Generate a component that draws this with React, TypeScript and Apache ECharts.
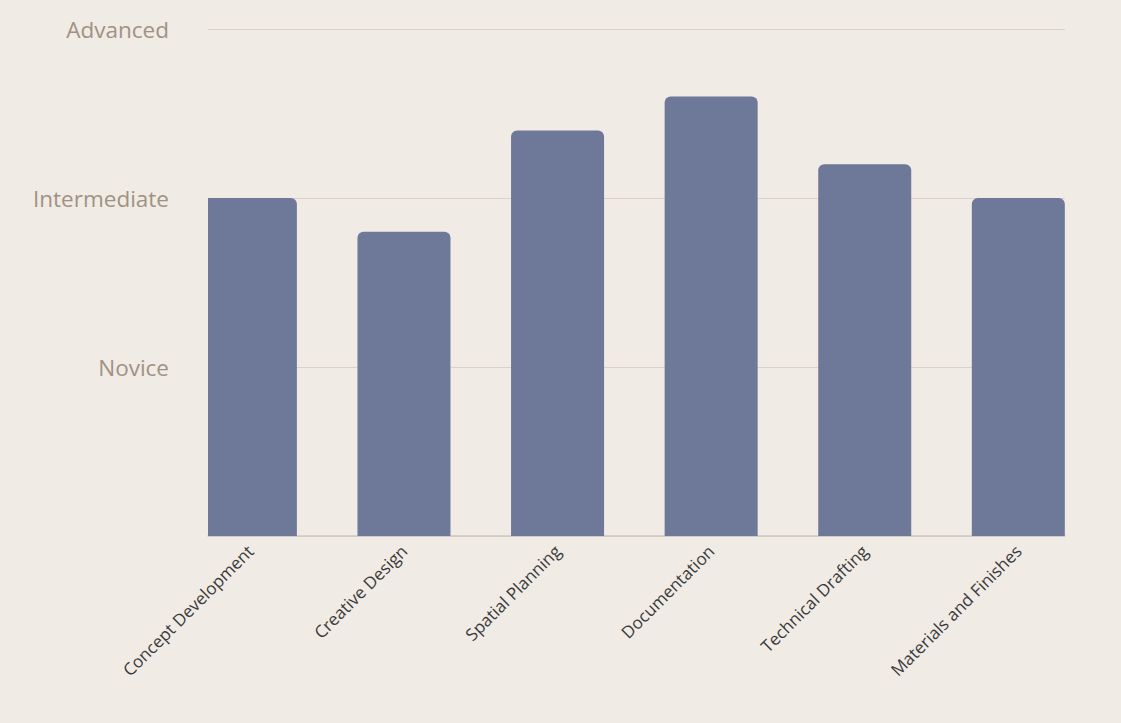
import React, { useEffect, useRef } from "react";
import * as echarts from "echarts";

const categories = [
  "Concept Development",
  "Creative Design",
  "Spatial Planning",
  "Documentation",
  "Technical Drafting",
  "Materials and Finishes",
];
const proficiency = [2, 1.8, 2.4, 2.6, 2.2, 2];
const levelLabels = ["", "Novice", "Intermediate", "Advanced"];

const FONT = "'Open Sans', sans-serif";
const BAR_WIDTH = 93;
const BAR_COLOR = "#6e7899";

export default function App() {
  const ref = useRef<HTMLDivElement>(null);
  useEffect(() => {
    document.body.style.margin = "0";
    document.body.style.background = "#f0ebe5";
    if (!ref.current) return;
    const chart = echarts.init(ref.current, undefined, { renderer: "svg" });
    chart.setOption({
      animation: false,
      backgroundColor: "#f0ebe5",
      grid: { left: 208, right: 56, top: 29, bottom: 187, containLabel: false },
      xAxis: {
        type: "value",
        min: -0.276,
        max: 5.304,
        axisLine: { show: true, lineStyle: { color: "#cfc8c2", width: 1.5 } },
        axisTick: { show: false },
        splitLine: { show: false },
        axisLabel: {
          customValues: categories.map((_, i) => i),
          formatter: (v: number) => categories[Math.round(v)] ?? "",
          rotate: 45,
          margin: 12,
          color: "#3a3a3a",
          fontSize: 17,
          fontFamily: FONT,
        },
      },
      yAxis: {
        type: "value",
        min: 0,
        max: 3,
        interval: 1,
        axisLine: { show: false },
        axisTick: { show: false },
        splitLine: { show: true, lineStyle: { color: "#d9d2cb", width: 1 } },
        axisLabel: {
          formatter: (v: number) => levelLabels[v] ?? "",
          margin: 39,
          color: "#a09282",
          fontSize: 22.5,
          fontFamily: FONT,
          padding: [5, 0, 0, 0],
        },
      },
      series: [
        {
          type: "custom",
          data: proficiency.map((v, i) => [i, v]),
          encode: { x: 0, y: 1 },
          renderItem: (params: any, api: any) => {
            const xv = api.value(0);
            const yv = api.value(1);
            const top = api.coord([xv, yv]);
            const base = api.coord([xv, 0]);
            const rect = {
              x: top[0] - BAR_WIDTH / 2,
              y: top[1],
              width: BAR_WIDTH,
              height: base[1] - top[1],
            };
            const cs = params.coordSys;
            const clipped = echarts.graphic.clipRectByRect(rect, {
              x: cs.x,
              y: cs.y,
              width: cs.width,
              height: cs.height,
            });
            if (!clipped) return null;
            const leftCut = clipped.x > rect.x + 0.1;
            const rightCut = clipped.x + clipped.width < rect.x + rect.width - 0.1;
            return {
              type: "rect",
              shape: {
                x: clipped.x,
                y: clipped.y,
                width: clipped.width,
                height: clipped.height,
                r: [leftCut ? 0 : 6, rightCut ? 0 : 6, 0, 0],
              },
              style: { fill: BAR_COLOR },
            };
          },
        },
      ],
    });
    return () => chart.dispose();
  }, []);
  return <div ref={ref} style={{ width: 1121, height: 723 }} />;
}
